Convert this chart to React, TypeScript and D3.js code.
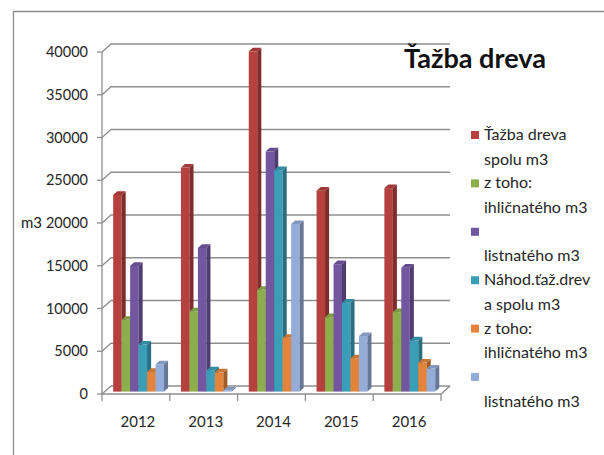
import { useEffect, useRef } from "react";
import * as d3 from "d3";

// ---------------------------------------------------------------------------
// Data (m3 per year)
// ---------------------------------------------------------------------------

const YEARS = ["2012", "2013", "2014", "2015", "2016"];

const TOTAL = [23000, 26200, 39800, 23500, 23800];
const CONIFER = [8400, 9400, 11900, 8700, 9300];
const BROADLEAF = [14700, 16800, 28100, 14900, 14500];
const SALVAGE_TOTAL = [5500, 2500, 25900, 10400, 6000];
const SALVAGE_CONIFER = [2300, 2250, 6300, 3900, 3400];
const SALVAGE_BROADLEAF = [3200, 150, 19600, 6500, 2700];

const SERIES_VALUES = [TOTAL, CONIFER, BROADLEAF, SALVAGE_TOTAL, SALVAGE_CONIFER, SALVAGE_BROADLEAF];

// legend text as it wraps in the original
const LEGEND_LINES = [
  ["Ťažba dreva", "spolu m3"],
  ["z toho:", "ihličnatého m3"],
  ["", "listnatého m3"],
  ["Náhod.ťaž.drev", "a spolu m3"],
  ["z toho:", "ihličnatého m3"],
  ["", "listnatého m3"],
];

const COLORS = ["#b5403e", "#8cae4c", "#7256a0", "#3a9eb8", "#e4843a", "#93acd8"];

const Y_TICKS = [0, 5000, 10000, 15000, 20000, 25000, 30000, 35000, 40000];

const FONT = "Lato, 'Open Sans', sans-serif";

export default function App() {
  const svgRef = useRef<SVGSVGElement>(null);
  const width = 604;
  const height = 455;

  useEffect(() => {
    const svg = d3.select(svgRef.current);
    svg.selectAll("*").remove();

    // 3D depth of the plot box
    const DX = 9;
    const DY = -8;

    const y = d3.scaleLinear().domain([0, 40000]).range([394, 52]);
    const x0 = d3.scaleBand().domain(YEARS).range([102, 441]);
    const x1 = d3
      .scaleBand<number>()
      .domain(d3.range(SERIES_VALUES.length))
      .range([0, x0.bandwidth()])
      .paddingOuter(1);

    const left = x0.range()[0];
    const right = x0.range()[1];

    // ---- Outer frame ----
    svg
      .append("path")
      .attr("d", `M13.5,${height + 2}V11.5H${width + 2}`)
      .attr("fill", "none")
      .attr("stroke", "#8c8c8c")
      .attr("stroke-width", 1.3);

    const axisColor = "#8e8e8e";

    // ---- Gridlines on the back wall and side wall ----
    svg
      .append("g")
      .selectAll("path")
      .data(Y_TICKS)
      .join("path")
      .attr("d", (d) => `M${left},${y(d)}L${left + DX},${y(d) + DY}H${right + DX}`)
      .attr("fill", "none")
      .attr("stroke", axisColor)
      .attr("stroke-width", 1.3);

    // y axis line and ticks
    svg
      .append("line")
      .attr("x1", left)
      .attr("x2", left)
      .attr("y1", y(40000))
      .attr("y2", y(0))
      .attr("stroke", axisColor)
      .attr("stroke-width", 1.3);

    svg
      .append("g")
      .selectAll("line")
      .data(Y_TICKS)
      .join("line")
      .attr("x1", left - 5)
      .attr("x2", left)
      .attr("y1", (d) => y(d))
      .attr("y2", (d) => y(d))
      .attr("stroke", axisColor)
      .attr("stroke-width", 1.3);

    // floor front edge + right diagonal
    svg
      .append("path")
      .attr("d", `M${left},${y(0)}H${right}L${right + DX},${y(0) + DY}`)
      .attr("fill", "none")
      .attr("stroke", axisColor)
      .attr("stroke-width", 1.3);

    // category ticks
    const catBounds = [...YEARS.map((d) => x0(d)!), right];
    svg
      .append("g")
      .selectAll("line")
      .data(catBounds)
      .join("line")
      .attr("x1", (d) => d)
      .attr("x2", (d) => d)
      .attr("y1", y(0))
      .attr("y2", y(0) + 7)
      .attr("stroke", axisColor)
      .attr("stroke-width", 1.3);

    // ---- Tick labels ----
    svg
      .append("g")
      .selectAll("text")
      .data(Y_TICKS)
      .join("text")
      .attr("x", 88)
      .attr("y", (d) => y(d) + 5)
      .attr("text-anchor", "end")
      .attr("font-family", FONT)
      .attr("font-size", 14.5)
      .attr("fill", "#262626")
      .text((d) => String(d));

    svg
      .append("text")
      .attr("x", 21)
      .attr("y", y(20000) + 5)
      .attr("font-family", FONT)
      .attr("font-size", 15)
      .attr("fill", "#1a1a1a")
      .text("m3");

    svg
      .append("g")
      .selectAll("text")
      .data(YEARS)
      .join("text")
      .attr("x", (d) => x0(d)! + x0.bandwidth() / 2 + 2)
      .attr("y", 427)
      .attr("text-anchor", "middle")
      .attr("font-family", FONT)
      .attr("font-size", 15)
      .attr("fill", "#262626")
      .text((d) => d);

    // ---- 3D bars ----
    const px = DX * 0.3;
    const py = DY * 0.3;
    const bdx = DX * 0.45;
    const bdy = DY * 0.45;
    const bw = x1.bandwidth();

    const bars = svg.append("g");
    YEARS.forEach((year, yi) => {
      SERIES_VALUES.forEach((values, si) => {
        const v = values[yi];
        const bx = x0(year)! + x1(si)! + px;
        const yt = y(v) + py;
        const yb = y(0) + py;
        const base = d3.color(COLORS[si])!;
        const g = bars.append("g");
        g.append("rect")
          .attr("x", bx)
          .attr("y", yt)
          .attr("width", bw)
          .attr("height", yb - yt)
          .attr("fill", COLORS[si]);
        g.append("path")
          .attr(
            "d",
            `M${bx + bw},${yt}L${bx + bw + bdx},${yt + bdy}V${yb + bdy}L${bx + bw},${yb}Z`
          )
          .attr("fill", base.darker(1).formatHex());
        g.append("path")
          .attr(
            "d",
            `M${bx},${yt}L${bx + bdx},${yt + bdy}H${bx + bw + bdx}L${bx + bw},${yt}Z`
          )
          .attr("fill", base.darker(0.35).formatHex());
      });
    });

    // ---- Title ----
    svg
      .append("text")
      .attr("x", 404)
      .attr("y", 68)
      .attr("font-family", FONT)
      .attr("font-weight", "bold")
      .attr("font-size", 26)
      .attr("textLength", 142)
      .attr("lengthAdjust", "spacingAndGlyphs")
      .attr("fill", "#111")
      .text("Ťažba dreva");

    // ---- Legend ----
    const legend = svg
      .append("g")
      .selectAll("g")
      .data(LEGEND_LINES)
      .join("g")
      .attr("transform", (_d, i) => `translate(471,${140 + i * 48.4})`);

    legend
      .append("rect")
      .attr("x", 0)
      .attr("y", -9)
      .attr("width", 8)
      .attr("height", 8)
      .attr("fill", (_d, i) => COLORS[i]);

    legend
      .selectAll("text")
      .data((d) => d)
      .join("text")
      .attr("x", 13)
      .attr("y", (_d, j) => j * 24.5)
      .attr("font-family", FONT)
      .attr("font-size", 16)
      .attr("fill", "#262626")
      .text((d) => d);
  }, []);

  return (
    <svg
      ref={svgRef}
      width={width}
      height={height}
      style={{ position: "absolute", left: 0, top: 0, background: "#fff" }}
    />
  );
}
